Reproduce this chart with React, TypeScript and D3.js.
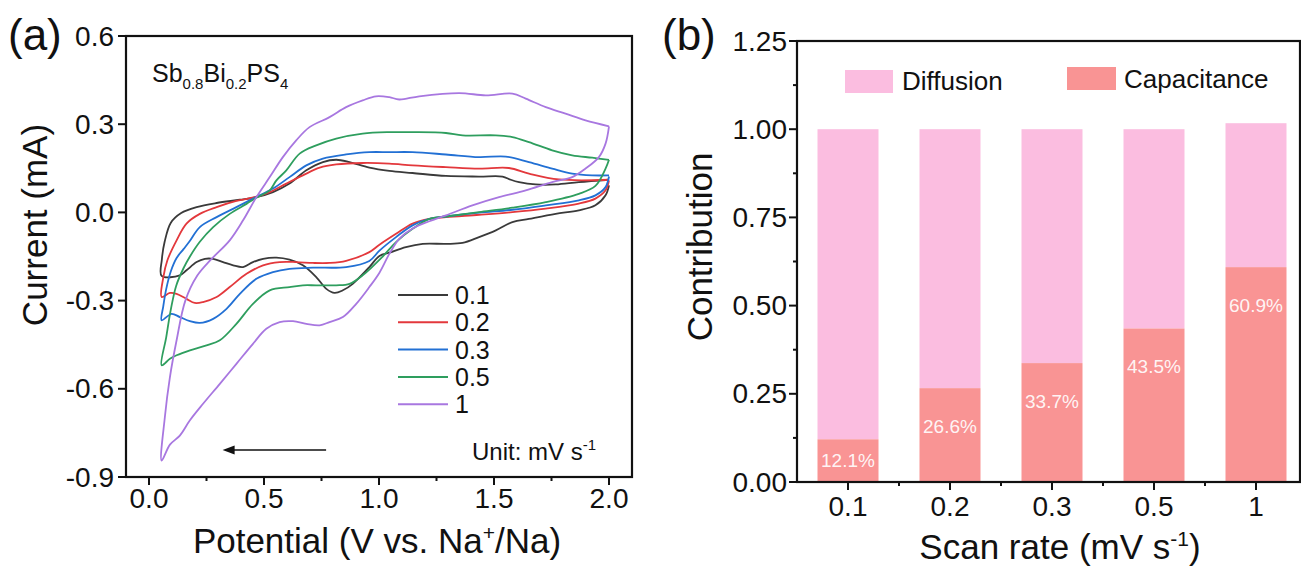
import React from 'react'
import { scaleLinear, scalePoint, line, curveCatmullRom } from 'd3'

const W = 1301
const H = 568
const FONT = "'Liberation Sans', Arial, Helvetica, sans-serif"

// (a) CV loops, [potential (V), current (mA)]: cathodic sweep from 2.0 V, then anodic back
const cv01 = [
  [2.0, 0.092], [1.985, 0.058], [1.941, 0.024], [1.869, 0.007], [1.768, -0.005], [1.652, -0.022],
  [1.58, -0.033], [1.508, -0.061], [1.435, -0.084], [1.363, -0.104], [1.291, -0.107], [1.19, -0.107],
  [1.117, -0.118], [1.045, -0.137], [1.002, -0.148], [0.958, -0.186], [0.886, -0.243], [0.843, -0.265],
  [0.807, -0.274], [0.771, -0.26], [0.727, -0.22], [0.669, -0.18], [0.611, -0.161], [0.554, -0.154],
  [0.496, -0.158], [0.452, -0.169], [0.409, -0.186], [0.366, -0.18], [0.322, -0.169], [0.279, -0.158],
  [0.243, -0.158], [0.207, -0.169], [0.163, -0.197], [0.134, -0.214], [0.055, -0.216],
  [0.056, -0.16], [0.068, -0.1], [0.095, -0.035], [0.14, -0.002], [0.207, 0.018], [0.294, 0.032],
  [0.395, 0.043], [0.467, 0.052], [0.539, 0.069], [0.611, 0.098], [0.684, 0.143], [0.756, 0.171],
  [0.814, 0.179], [0.872, 0.171], [0.958, 0.152], [1.045, 0.141], [1.146, 0.134], [1.291, 0.124],
  [1.435, 0.122], [1.537, 0.122], [1.573, 0.111], [1.609, 0.103], [1.681, 0.095], [1.768, 0.095],
  [1.869, 0.103], [2.0, 0.111],
]
const cv02 = [
  [2.0, 0.109], [1.985, 0.075], [1.941, 0.047], [1.869, 0.03], [1.725, 0.013], [1.58, 0.001],
  [1.435, -0.008], [1.291, -0.016], [1.219, -0.022], [1.146, -0.038], [1.074, -0.073], [1.002, -0.11],
  [0.958, -0.135], [0.857, -0.165], [0.785, -0.172], [0.713, -0.172], [0.64, -0.169], [0.568, -0.169],
  [0.496, -0.18], [0.424, -0.209], [0.351, -0.254], [0.294, -0.288], [0.235, -0.305], [0.199, -0.308],
  [0.163, -0.294], [0.12, -0.277], [0.091, -0.274], [0.055, -0.288],
  [0.062, -0.222], [0.08, -0.163], [0.12, -0.095], [0.163, -0.038], [0.221, -0.005], [0.294, 0.018],
  [0.38, 0.039], [0.46, 0.052], [0.525, 0.069], [0.597, 0.098], [0.669, 0.126], [0.742, 0.152],
  [0.814, 0.163], [0.929, 0.168], [1.045, 0.166], [1.146, 0.16], [1.291, 0.154], [1.435, 0.149],
  [1.565, 0.151], [1.652, 0.132], [1.782, 0.112], [2.0, 0.111],
]
const cv03 = [
  [2.0, 0.122], [1.985, 0.086], [1.941, 0.058], [1.869, 0.041], [1.725, 0.024], [1.58, 0.009],
  [1.435, -0.001], [1.291, -0.014], [1.219, -0.022], [1.146, -0.044], [1.074, -0.084], [1.002, -0.13],
  [0.958, -0.165], [0.857, -0.186], [0.713, -0.188], [0.611, -0.192], [0.539, -0.203], [0.467, -0.226],
  [0.395, -0.277], [0.337, -0.328], [0.279, -0.362], [0.221, -0.376], [0.178, -0.37], [0.134, -0.356],
  [0.098, -0.345], [0.055, -0.367],
  [0.062, -0.32], [0.075, -0.26], [0.095, -0.2], [0.12, -0.155], [0.15, -0.125], [0.175, -0.1],
  [0.221, -0.05], [0.294, -0.016], [0.38, 0.018], [0.46, 0.05], [0.539, 0.081], [0.611, 0.12],
  [0.684, 0.16], [0.756, 0.183], [0.857, 0.197], [0.958, 0.205], [1.045, 0.205], [1.146, 0.205],
  [1.291, 0.197], [1.435, 0.188], [1.551, 0.19], [1.652, 0.171], [1.753, 0.149], [1.84, 0.132],
  [1.927, 0.126], [2.0, 0.126],
]
const cv05 = [
  [2.0, 0.179], [1.985, 0.149], [1.941, 0.09], [1.869, 0.063], [1.725, 0.035], [1.58, 0.016],
  [1.435, 0.001], [1.291, -0.014], [1.219, -0.022], [1.146, -0.056], [1.074, -0.101], [1.016, -0.15],
  [0.929, -0.214], [0.872, -0.243], [0.814, -0.248], [0.727, -0.248], [0.669, -0.248], [0.611, -0.254],
  [0.525, -0.265], [0.452, -0.311], [0.38, -0.379], [0.308, -0.435], [0.25, -0.452], [0.178, -0.469],
  [0.12, -0.486], [0.091, -0.498], [0.055, -0.52],
  [0.075, -0.424], [0.095, -0.33], [0.118, -0.25], [0.15, -0.19], [0.178, -0.15], [0.221, -0.1],
  [0.279, -0.05], [0.351, -0.005], [0.424, 0.029], [0.467, 0.05], [0.525, 0.075], [0.554, 0.109],
  [0.597, 0.143], [0.655, 0.2], [0.727, 0.228], [0.814, 0.251], [0.929, 0.268], [1.045, 0.273],
  [1.146, 0.273], [1.291, 0.27], [1.363, 0.262], [1.508, 0.262], [1.58, 0.256], [1.652, 0.239],
  [1.753, 0.211], [1.84, 0.194], [1.927, 0.186], [2.0, 0.179],
]
const cv1 = [
  [2.0, 0.293], [1.985, 0.234], [1.956, 0.188], [1.898, 0.149], [1.84, 0.12], [1.753, 0.103],
  [1.638, 0.075], [1.522, 0.052], [1.406, 0.024], [1.291, -0.01], [1.219, -0.03], [1.146, -0.055],
  [1.088, -0.09], [1.045, -0.141], [1.002, -0.205], [0.958, -0.254], [0.901, -0.311], [0.843, -0.356],
  [0.785, -0.373], [0.742, -0.384], [0.684, -0.379], [0.626, -0.37], [0.568, -0.373], [0.51, -0.396],
  [0.452, -0.447], [0.38, -0.515], [0.308, -0.583], [0.235, -0.651], [0.178, -0.707], [0.134, -0.759],
  [0.091, -0.79], [0.055, -0.844],
  [0.069, -0.696], [0.091, -0.56], [0.12, -0.435], [0.158, -0.3], [0.21, -0.215], [0.27, -0.16],
  [0.351, -0.095], [0.409, -0.027], [0.467, 0.052], [0.525, 0.12], [0.582, 0.188], [0.64, 0.245],
  [0.698, 0.29], [0.785, 0.324], [0.857, 0.358], [0.929, 0.381], [0.987, 0.395], [1.045, 0.392],
  [1.088, 0.384], [1.175, 0.395], [1.349, 0.406], [1.464, 0.398], [1.58, 0.404], [1.638, 0.387],
  [1.725, 0.358], [1.811, 0.336], [1.898, 0.313], [2.0, 0.293],
]

const cvSeries = [cv01, cv02, cv03, cv05, cv1]
const cvLabels = ['0.1', '0.2', '0.3', '0.5', '1']
const cvColors = ['#3a3a3a', '#e3383c', '#2270d4', '#2e9e5e', '#a877e0']

const potentialTicks = [0, 0.5, 1, 1.5, 2]
const potentialMinor = [0.25, 0.75, 1.25, 1.75]
const currentTicks = [-0.9, -0.6, -0.3, 0, 0.3, 0.6]

// (b) capacitive vs diffusion contribution
const scanRates = ['0.1', '0.2', '0.3', '0.5', '1']
const capacitive = [0.121, 0.266, 0.337, 0.435, 0.609]
const diffusion = [0.879, 0.734, 0.663, 0.565, 0.408]
const contributionTicks = [0, 0.25, 0.5, 0.75, 1, 1.25]
const contributionMinor = [0.125, 0.375, 0.625, 0.875, 1.125]

const PINK = '#fbbde0'
const SALMON = '#f99494'

const ax = scaleLinear().domain([-0.1, 2.1]).range([126, 632])
const ay = scaleLinear().domain([-0.9, 0.6]).range([477, 36])

const bx = scalePoint<string>().domain(scanRates).range([848, 1256])
const by = scaleLinear().domain([0, 1.25]).range([482, 41])
const B_LEFT = 797
const B_RIGHT = 1300
const BAR_W = 61

const cvLine = line<number[]>()
  .x(d => ax(d[0]))
  .y(d => ay(d[1]))
  .curve(curveCatmullRom.alpha(0.5))

const App = () => {
  const bMinorX = scanRates.slice(1).map((r, i) => ((bx(scanRates[i]) as number) + (bx(r) as number)) / 2)

  return (
    <svg width={W} height={H} style={{ position: 'absolute', left: 0, top: 0, background: '#fff' }}
      fontFamily={FONT} fill="#111">
      {/* ---------- panel (a) ---------- */}
      <text x={8} y={50} fontSize={44}>(a)</text>

      {cvSeries.map((s, i) => (
        <path key={i} d={cvLine(s) as string} fill="none" stroke={cvColors[i]} strokeWidth={1.8}
          strokeLinejoin="round" />
      ))}

      <rect x={ax(-0.1)} y={ay(0.6)} width={ax(2.1) - ax(-0.1)} height={ay(-0.9) - ay(0.6)}
        fill="none" stroke="#111" strokeWidth={2.2} />

      {currentTicks.map(t => (
        <g key={t}>
          <line x1={ax(-0.1) - 8} x2={ax(-0.1)} y1={ay(t)} y2={ay(t)} stroke="#111" strokeWidth={2} />
          <text x={ax(-0.1) - 12} y={ay(t)} textAnchor="end" dominantBaseline="central" fontSize={28}>
            {t.toFixed(1)}
          </text>
        </g>
      ))}
      {potentialTicks.map(t => (
        <g key={t}>
          <line x1={ax(t)} x2={ax(t)} y1={ay(-0.9)} y2={ay(-0.9) + 8} stroke="#111" strokeWidth={2} />
          <text x={ax(t)} y={508} textAnchor="middle" fontSize={28}>{t.toFixed(1)}</text>
        </g>
      ))}
      {potentialMinor.map(t => (
        <line key={t} x1={ax(t)} x2={ax(t)} y1={ay(-0.9)} y2={ay(-0.9) + 4} stroke="#111" strokeWidth={2} />
      ))}

      <text x={377} y={553} textAnchor="middle" fontSize={35}>
        Potential (V vs. Na<tspan fontSize={21} dy={-13}>+</tspan><tspan dy={13}>/Na)</tspan>
      </text>
      <text transform="translate(47,225) rotate(-90)" textAnchor="middle" fontSize={35}>Current (mA)</text>

      <text x={152} y={82} fontSize={25}>
        Sb<tspan fontSize={15} dy={7}>0.8</tspan><tspan dy={-7}>Bi</tspan>
        <tspan fontSize={15} dy={7}>0.2</tspan><tspan dy={-7}>PS</tspan><tspan fontSize={15} dy={7}>4</tspan>
      </text>

      {cvLabels.map((l, i) => (
        <g key={l}>
          <line x1={398} x2={448} y1={295 + i * 27.3} y2={295 + i * 27.3} stroke={cvColors[i]} strokeWidth={2} />
          <text x={455} y={295 + i * 27.3} dominantBaseline="central" fontSize={25}>{l}</text>
        </g>
      ))}

      <text x={472} y={460} fontSize={24}>
        Unit: mV s<tspan fontSize={15} dy={-10}>-1</tspan>
      </text>

      <line x1={ax(0.77)} x2={ax(0.36)} y1={450} y2={450} stroke="#111" strokeWidth={1.6} />
      <path d={`M${ax(0.32)},450 l12,-4.5 l0,9 z`} fill="#111" />

      {/* ---------- panel (b) ---------- */}
      <text x={662} y={50} fontSize={44}>(b)</text>

      {scanRates.map((r, i) => (
        <g key={r}>
          <rect x={(bx(r) as number) - BAR_W / 2} y={by(capacitive[i] + diffusion[i])} width={BAR_W}
            height={by(capacitive[i]) - by(capacitive[i] + diffusion[i])} fill={PINK} />
          <rect x={(bx(r) as number) - BAR_W / 2} y={by(capacitive[i])} width={BAR_W}
            height={by(0) - by(capacitive[i])} fill={SALMON} />
          <text x={bx(r) as number} y={Math.min(by(capacitive[i]) + 38, (by(capacitive[i]) + by(0)) / 2)}
            textAnchor="middle" dominantBaseline="central" fontSize={19} fill="#fff" fillOpacity={0.92}>
            {(capacitive[i] * 100).toFixed(1)}%
          </text>
        </g>
      ))}

      <rect x={B_LEFT} y={by(1.25)} width={B_RIGHT - B_LEFT} height={by(0) - by(1.25)}
        fill="none" stroke="#111" strokeWidth={2.2} />

      {contributionTicks.map(t => (
        <g key={t}>
          <line x1={B_LEFT - 8} x2={B_LEFT} y1={by(t)} y2={by(t)} stroke="#111" strokeWidth={2} />
          <text x={B_LEFT - 10} y={by(t)} textAnchor="end" dominantBaseline="central" fontSize={28}>
            {t.toFixed(2)}
          </text>
        </g>
      ))}
      {contributionMinor.map(t => (
        <line key={t} x1={B_LEFT - 4} x2={B_LEFT} y1={by(t)} y2={by(t)} stroke="#111" strokeWidth={2} />
      ))}
      {scanRates.map(r => (
        <g key={r}>
          <line x1={bx(r) as number} x2={bx(r) as number} y1={by(0)} y2={by(0) + 8} stroke="#111" strokeWidth={2} />
          <text x={bx(r) as number} y={516} textAnchor="middle" fontSize={28}>{r}</text>
        </g>
      ))}
      {bMinorX.map(x => (
        <line key={x} x1={x} x2={x} y1={by(0)} y2={by(0) + 4} stroke="#111" strokeWidth={2} />
      ))}

      <text x={1060} y={559} textAnchor="middle" fontSize={35}>
        Scan rate (mV s<tspan fontSize={21} dy={-13}>-1</tspan><tspan dy={13}>)</tspan>
      </text>
      <text transform="translate(712,247) rotate(-90)" textAnchor="middle" fontSize={35}>Contribution</text>

      <rect x={845} y={70} width={48} height={23} fill={PINK} />
      <text x={902} y={81} dominantBaseline="central" fontSize={26}>Diffusion</text>
      <rect x={1067} y={67} width={49} height={23} fill={SALMON} />
      <text x={1124} y={79} dominantBaseline="central" fontSize={26}>Capacitance</text>
    </svg>
  )
}

export default App
